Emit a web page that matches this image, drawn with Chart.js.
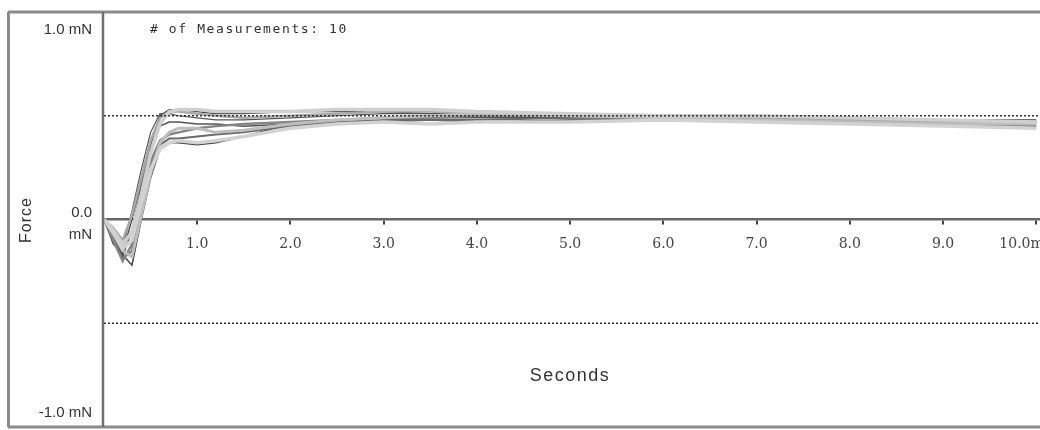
<!DOCTYPE html>
<html>
<head>
<meta charset="utf-8">
<script src="https://cdn.jsdelivr.net/npm/chart.js@4.4.1/dist/chart.umd.min.js"></script>
<style>
  body { margin: 0; background: #fff; }
  canvas { display: block; }
</style>
</head>
<body>
<canvas id="forceChart" width="1040" height="430"></canvas>
<script>
// sample times (seconds) shared by every measurement
const times = [0, 0.1, 0.2, 0.3, 0.4, 0.5, 0.6, 0.7, 0.8, 1.0, 1.2, 1.5, 2.0, 2.5, 3.0, 3.5, 4.0, 5.0, 6.0, 7.0, 8.0, 9.0, 10.0];

// force readings (mN), one array per measurement
const run1 = [0, -0.12, -0.16, 0.00, 0.18, 0.36, 0.50, 0.53, 0.53, 0.52, 0.51, 0.51, 0.52, 0.52, 0.52, 0.51, 0.51, 0.50, 0.50, 0.49, 0.49, 0.48, 0.48];
const run2 = [0, -0.08, -0.17, -0.22, 0.00, 0.20, 0.34, 0.37, 0.37, 0.36, 0.37, 0.40, 0.46, 0.47, 0.47, 0.48, 0.47, 0.48, 0.48, 0.48, 0.47, 0.47, 0.47];
const run3 = [0, -0.05, -0.12, -0.06, 0.12, 0.32, 0.46, 0.52, 0.53, 0.53, 0.52, 0.52, 0.52, 0.53, 0.53, 0.53, 0.52, 0.51, 0.50, 0.50, 0.49, 0.48, 0.47];
const run4 = [0, -0.10, -0.20, -0.12, 0.10, 0.28, 0.38, 0.41, 0.42, 0.44, 0.45, 0.46, 0.47, 0.48, 0.49, 0.49, 0.50, 0.50, 0.49, 0.49, 0.48, 0.47, 0.46];
const run5 = [0, -0.06, -0.14, -0.10, 0.08, 0.24, 0.34, 0.37, 0.38, 0.37, 0.38, 0.40, 0.44, 0.46, 0.47, 0.46, 0.47, 0.47, 0.48, 0.47, 0.46, 0.45, 0.44];
const run6 = [0, -0.09, -0.18, -0.05, 0.16, 0.34, 0.45, 0.47, 0.47, 0.46, 0.46, 0.45, 0.46, 0.47, 0.48, 0.49, 0.49, 0.49, 0.49, 0.49, 0.48, 0.48, 0.47];
const run7 = [0, -0.04, -0.10, 0.02, 0.20, 0.38, 0.49, 0.52, 0.52, 0.51, 0.50, 0.49, 0.50, 0.51, 0.52, 0.52, 0.51, 0.50, 0.50, 0.49, 0.48, 0.47, 0.47];
const run8 = [0, -0.10, -0.19, -0.15, 0.04, 0.26, 0.36, 0.39, 0.39, 0.40, 0.41, 0.42, 0.45, 0.47, 0.48, 0.48, 0.48, 0.49, 0.49, 0.48, 0.48, 0.46, 0.45];
const run9 = [0, -0.07, -0.15, -0.18, 0.02, 0.22, 0.37, 0.42, 0.44, 0.44, 0.42, 0.43, 0.46, 0.48, 0.49, 0.50, 0.51, 0.50, 0.49, 0.48, 0.47, 0.46, 0.46];
const run10 = [0, -0.11, -0.14, 0.04, 0.24, 0.42, 0.51, 0.51, 0.50, 0.49, 0.48, 0.48, 0.49, 0.50, 0.51, 0.51, 0.50, 0.50, 0.49, 0.49, 0.48, 0.48, 0.47];

// limit lines (mN)
const upperLimit = 0.5;
const lowerLimit = -0.5;

const xTickValues = [1, 2, 3, 4, 5, 6, 7, 8, 9, 10];
const xMax = 10.04;

function toPoints(values) {
    return values.map((v, i) => ({ x: times[i], y: v }));
}

function runSet(values, color, width) {
    return {
        data: toPoints(values),
        borderColor: color,
        borderWidth: width,
        pointRadius: 0,
        tension: 0,
        fill: false
    };
}

function limitSet(value) {
    return {
        data: [{ x: 0, y: value }, { x: xMax, y: value }],
        borderColor: '#333',
        borderWidth: 1.5,
        borderDash: [2, 2],
        pointRadius: 0,
        fill: false
    };
}

// frame, left-hand labels and header text
const framePlugin = {
    id: 'frame',
    afterDraw(chart) {
        const c = chart.ctx;
        const area = chart.chartArea;
        c.save();
        c.strokeStyle = '#8a8a8a';
        c.lineWidth = 3;
        c.beginPath();
        c.moveTo(8, 12); c.lineTo(1040, 12);
        c.moveTo(8, 427); c.lineTo(1040, 427);
        c.moveTo(8.5, 12); c.lineTo(8.5, 427);
        c.stroke();
        c.strokeStyle = '#6e6e6e';
        c.lineWidth = 2.5;
        c.beginPath();
        c.moveTo(area.left - 1, 12); c.lineTo(area.left - 1, 427);
        c.stroke();

        c.fillStyle = '#333';
        c.textBaseline = 'middle';
        c.textAlign = 'right';
        c.font = '15px "Liberation Sans", Arial, sans-serif';
        c.fillText('1.0 mN', 92, 30);
        c.fillText('0.0', 92, 213);
        c.fillText('mN', 92, 235);
        c.fillText('-1.0 mN', 92, 413);

        c.save();
        c.translate(27, 220);
        c.rotate(-Math.PI / 2);
        c.textAlign = 'center';
        c.letterSpacing = '1px';
        c.font = '16px "Liberation Sans", Arial, sans-serif';
        c.fillText('Force', 0, 0);
        c.restore();

        c.textAlign = 'center';
        c.letterSpacing = '1.5px';
        c.font = '18px "Liberation Sans", Arial, sans-serif';
        c.fillText('Seconds', 570, 376);

        c.textAlign = 'left';
        c.letterSpacing = '1.6px';
        c.font = '13px "DejaVu Sans Mono", monospace';
        c.fillText('# of Measurements: 10', 150, 30);
        c.restore();
    }
};

const ctx = document.getElementById('forceChart').getContext('2d');

let forceChart = new Chart(ctx, {
    type: 'line',
    data: {
        datasets: [
            limitSet(upperLimit),
            limitSet(lowerLimit),
            runSet(run3, '#cfcfcf', 3.5),
            runSet(run5, '#d2d2d2', 3.5),
            runSet(run9, '#bdbdbd', 3),
            runSet(run7, '#a8a8a8', 2.5),
            runSet(run4, '#858585', 2.5),
            runSet(run8, '#6a6a6a', 2),
            runSet(run6, '#555', 1.5),
            runSet(run2, '#444', 1.5),
            runSet(run10, '#555', 1.2),
            runSet(run1, '#3a3a3a', 1.2)
        ]
    },
    options: {
        responsive: false,
        animation: false,
        layout: { padding: { left: 104, top: 12, right: 0, bottom: 3 } },
        plugins: {
            legend: { display: false },
            tooltip: { enabled: false }
        },
        scales: {
            x: {
                type: 'linear',
                min: 0,
                max: xMax,
                position: { y: 0 },
                afterBuildTicks: (axis) => {
                    axis.ticks = xTickValues.map(v => ({ value: v }));
                },
                afterFit: (axis) => {
                    axis.paddingLeft = 0;
                    axis.paddingRight = 0;
                },
                grid: {
                    drawOnChartArea: false,
                    drawTicks: true,
                    tickLength: 4,
                    color: '#444',
                    lineWidth: 2
                },
                border: { display: true, color: '#666', width: 2.5 },
                ticks: {
                    color: '#444',
                    padding: 12,
                    maxRotation: 0,
                    autoSkip: false,
                    font: { family: '"DejaVu Serif", serif', size: 14 },
                    callback: (v) => v === 10 ? '10.0ms     ' : v.toFixed(1)
                }
            },
            y: {
                type: 'linear',
                min: -1,
                max: 1,
                display: false
            }
        }
    },
    plugins: [framePlugin]
});
</script>
</body>
</html>
